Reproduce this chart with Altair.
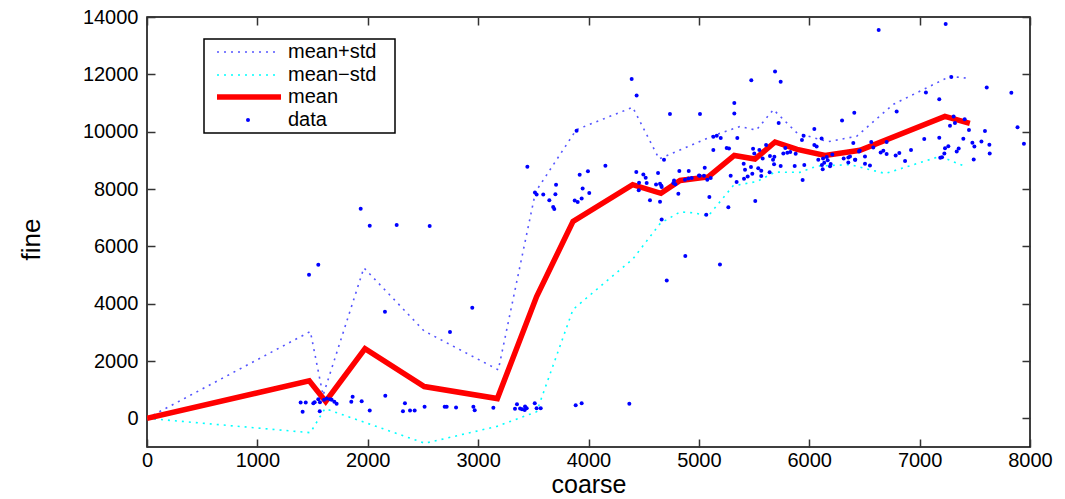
import altair as alt
import pandas as pd

# ---- series ----
mean_x = [0, 1470, 1619, 1975, 2512, 3174, 3530, 3860, 4400, 4656, 4830, 5085, 5321, 5508, 5690, 5890, 6143, 6460, 7229, 7455]
mean_y = [0, 1310, 590, 2430, 1110, 690, 4250, 6870, 8150, 7850, 8300, 8420, 9170, 9045, 9640, 9380, 9170, 9350, 10530, 10290]

up_x = [0, 1480, 1595, 1965, 2510, 3183, 3520, 3890, 4400, 4640, 4870, 5130, 5373, 5520, 5675, 5890, 6170, 6430, 6760, 7275, 7440]
up_y = [0, 3030, 800, 5250, 3050, 1690, 7900, 10070, 10850, 9050, 9430, 9860, 10180, 10050, 10770, 9950, 9650, 9840, 10950, 11930, 11860]

lo_x = [0, 1480, 1612, 2518, 3170, 3530, 3860, 4400, 4650, 4830, 4950, 5085, 5310, 5525, 5690, 5915, 6070, 6370, 6690, 7185, 7410]
lo_y = [0, -500, 340, -870, -280, 230, 3800, 5550, 6800, 7200, 7170, 7060, 8110, 8260, 8590, 8580, 8800, 8850, 8540, 9140, 8790]

data_x = [
    1392, 1438, 1410, 1507, 1519, 1552, 1567, 1565, 1604, 1628, 1658, 1673, 1697, 1718,
    1863, 1851, 1945, 2018, 2159, 2337, 2319, 2383, 2425, 2515, 2697, 2715, 2800, 2957, 2969, 3138,
    3352, 3334, 3380, 3398, 3425, 3440, 3422, 3513, 3530, 3567,
    3884, 3938, 4370,
    1468, 1552, 1936, 2018, 2262, 2561, 2156, 2947, 2745,
    3515, 3530, 3590, 3700, 3645, 3680, 3690, 3446, 4153, 3920, 3995, 3706, 3947, 4007, 3875, 3902, 3938, 3892,
    4391, 4436, 4433, 4497, 4518, 4630, 4458, 4527, 4612, 4648, 4663, 4660, 4455, 4557, 4648, 4663, 4684,
    4823, 4908, 4775, 4769, 4787, 4814, 4877, 4709, 4874, 4905, 4935, 5001, 4738,
    5690, 5475, 5741, 5321, 5321, 5010, 6408, 6297, 5723, 6046, 5131, 5162, 5198, 5348, 5949, 5934, 6112,
    6399, 5131, 5252, 5273, 6046, 6067, 5053, 5008, 5046, 5076, 5107,
    5491, 5548, 5609, 5502, 5578, 5644, 5684, 5672, 5681, 5783, 5765, 5801, 5828, 5877,
    5406, 5418, 5472, 5538, 5565, 5484, 5565, 5641, 5442, 5409, 5288, 5342, 5741, 5868, 5955, 5940,
    6082, 6125, 6158, 6167, 6194, 6136, 6115, 6122, 6188, 6209, 6312, 6354, 6354, 6417, 6457,
    5095, 5267, 5511, 5067, 5191,
    7236, 6629, 7287, 7608, 7831, 7057, 7178, 6792, 7308, 7408, 7320, 7275, 7447, 7592, 7887, 7945,
    6562, 6701, 7042, 7178, 7396, 7478, 7560, 7632,
    6580, 6451, 6647, 6671, 6701, 6783, 6816, 6922, 6868, 7230, 7260, 7224, 7203, 7187, 7354, 7336,
    7496, 7490, 7635, 6369, 6415, 6505, 6505, 6550,
]
data_y = [
    550, 550, 230, 530, 565, 670, 565, 250, 645, 690, 670, 645, 575, 505,
    750, 575, 600, 270, 785, 530, 250, 270, 270, 400, 400, 400, 380, 400, 285, 365,
    495, 330, 340, 320, 410, 355, 295, 530, 355, 355,
    460, 530, 505,
    5010, 5360, 7310, 6720, 6740, 6710, 3720, 3860, 3010,
    7880, 7810, 7810, 7820, 7610, 7370, 7300, 8780, 8810, 8500, 8615, 8150, 8020, 7860, 7600, 7545, 7670, 10030,
    11840, 11265, 8590, 8510, 8390, 8560, 8220, 8210, 8160, 8180, 8070, 8110, 7960, 7610, 7555, 6940, 9020,
    8625, 8625, 8300, 8210, 8170, 7835, 5660, 4810, 8325, 8370, 8385, 8475, 10620,
    12100, 11790, 11745, 11000, 10630, 10620, 10660, 10390, 10300, 10090, 9820, 9860, 9780, 9780, 9860, 9710, 9765,
    9605, 9360, 9430, 9415, 9535, 9485, 8740, 8465, 8465, 8325, 8385,
    9405, 9360, 9535, 9240, 9065, 9150, 9125, 9020, 8860, 9430, 9240, 9265, 9290, 9230,
    8880, 8675, 8765, 8720, 8640, 8535, 8450, 8580, 8440, 8360, 8465, 8245, 8800, 8800, 8835, 8310,
    9020, 9065, 9115, 9000, 8875, 8920, 8840, 8685, 8790, 9200, 9065, 9100, 8925, 9020, 9345,
    7720, 7360, 7580, 7100, 5370,
    13760, 13550, 11910, 11545, 11360, 11370, 11130, 10700, 10530, 10430, 10300, 10210, 10060, 10020, 10150, 9580,
    9640, 9640, 9745, 9790, 9755, 9615, 9660, 9545,
    9450, 9310, 9275, 9335, 9220, 9170, 9255, 9360, 8975, 9420, 9490, 9240, 9110, 9090, 9415, 9310,
    9485, 9030, 9240, 9135, 9020, 9135, 8880, 8820,
]

x_ticks = [0, 1000, 2000, 3000, 4000, 5000, 6000, 7000, 8000]
y_ticks = [0, 2000, 4000, 6000, 8000, 10000, 12000, 14000]
legend_labels = ["mean+std", "mean\u2212std", "mean", "data"]

FONT = "Liberation Sans"
W, H = 883, 430
TL = 8  # inward tick length

df_mean = pd.DataFrame({"x": mean_x, "y": mean_y, "o": range(len(mean_x))})
df_up = pd.DataFrame({"x": up_x, "y": up_y, "o": range(len(up_x))})
df_lo = pd.DataFrame({"x": lo_x, "y": lo_y, "o": range(len(lo_x))})
df_pts = pd.DataFrame({"x": data_x, "y": data_y})

xs = alt.Scale(domain=[0, 8000], nice=False, zero=False)
ys = alt.Scale(domain=[-1000, 14000], nice=False, zero=False)

tick_kw = dict(ticks=True, tickSize=TL, tickColor="#333333", tickWidth=1.5, offset=-TL,
               domain=False, grid=False)

x_axis = alt.Axis(values=x_ticks, format="d", title="coarse", labelFont=FONT, labelFontSize=20,
                  labelColor="black", titleFont=FONT, titleFontSize=25, titleFontWeight="normal",
                  titleColor="black", labelPadding=3, titlePadding=2, labelFlush=False, **tick_kw)
y_axis = alt.Axis(values=y_ticks, format="d", title="fine", labelFont=FONT, labelFontSize=20,
                  labelColor="black", titleFont=FONT, titleFontSize=26, titleFontWeight="normal",
                  titleColor="black", labelPadding=9, titleX=-116 - TL, titleY=222,
                  titleBaseline="middle", labelFlush=False, **tick_kw)
x_top = alt.Axis(values=x_ticks, orient="top", labels=False, title="", **tick_kw)
y_right = alt.Axis(values=y_ticks, orient="right", labels=False, title="", **tick_kw)

def line_layer(df, color, width, dash=None, opacity=1.0, xa=None, ya=None):
    kw = dict(color=color, strokeWidth=width, opacity=opacity, clip=True)
    if dash is not None:
        kw["strokeDash"] = dash
    return alt.Chart(df).mark_line(**kw).encode(
        x=alt.X("x:Q", scale=xs, axis=xa),
        y=alt.Y("y:Q", scale=ys, axis=ya),
        order="o:Q",
    )

upper = line_layer(df_up, "#2a2aff", 1.6, [2, 5], 0.8, x_axis, y_axis)
lower = line_layer(df_lo, "#00ffff", 1.6, [2, 5], 1.0)
mean = line_layer(df_mean, "#ff0000", 5.5)

pts = alt.Chart(df_pts).mark_circle(color="#0000ff", size=16, opacity=1).encode(
    x=alt.X("x:Q", scale=xs, axis=None),
    y=alt.Y("y:Q", scale=ys, axis=None),
)

# invisible layer carrying the top and right tick axes
frame = alt.Chart(df_pts).mark_point(opacity=0).encode(
    x=alt.X("x:Q", scale=xs, axis=x_top),
    y=alt.Y("y:Q", scale=ys, axis=y_right),
)

# legend (drawn inside the plot, top-left)
one = pd.DataFrame({"a": [0]})
lx0, lx1, ly0, ly1 = 57, 248, 22, 116
rows = [35, 58, 80, 103]
leg_box = alt.Chart(one).mark_rect(fill="white", stroke="black", strokeWidth=1.5).encode(
    x=alt.value(lx0), x2=alt.value(lx1), y=alt.value(ly0), y2=alt.value(ly1))
leg_up = alt.Chart(one).mark_rule(color="#2a2aff", strokeWidth=1.6, strokeDash=[2, 5], opacity=0.8).encode(
    x=alt.value(70), x2=alt.value(130), y=alt.value(rows[0]))
leg_lo = alt.Chart(one).mark_rule(color="#00ffff", strokeWidth=1.6, strokeDash=[2, 5]).encode(
    x=alt.value(70), x2=alt.value(130), y=alt.value(rows[1]))
leg_mean = alt.Chart(one).mark_rule(color="#ff0000", strokeWidth=5.5).encode(
    x=alt.value(70), x2=alt.value(134), y=alt.value(rows[2]))
leg_dot = alt.Chart(one).mark_circle(color="#0000ff", size=16, opacity=1).encode(
    x=alt.value(101), y=alt.value(rows[3]))
leg_text = [
    alt.Chart(one).mark_text(align="left", baseline="middle", font=FONT, fontSize=20, color="black").encode(
        x=alt.value(141), y=alt.value(r), text=alt.value(t))
    for r, t in zip(rows, legend_labels)
]

chart = alt.layer(
    upper, lower, mean, pts, frame,
    leg_box, leg_up, leg_lo, leg_mean, leg_dot, *leg_text,
).resolve_axis(
    x="independent", y="independent"
).properties(
    width=W, height=H,
    padding={"left": 147, "top": 17, "right": 35, "bottom": 52},
    autosize=alt.AutoSizeParams(type="none"),
    background="white",
).configure_view(stroke="black", strokeWidth=1.5)

chart.save("out.html", embed_options={"renderer": "svg", "actions": False})
